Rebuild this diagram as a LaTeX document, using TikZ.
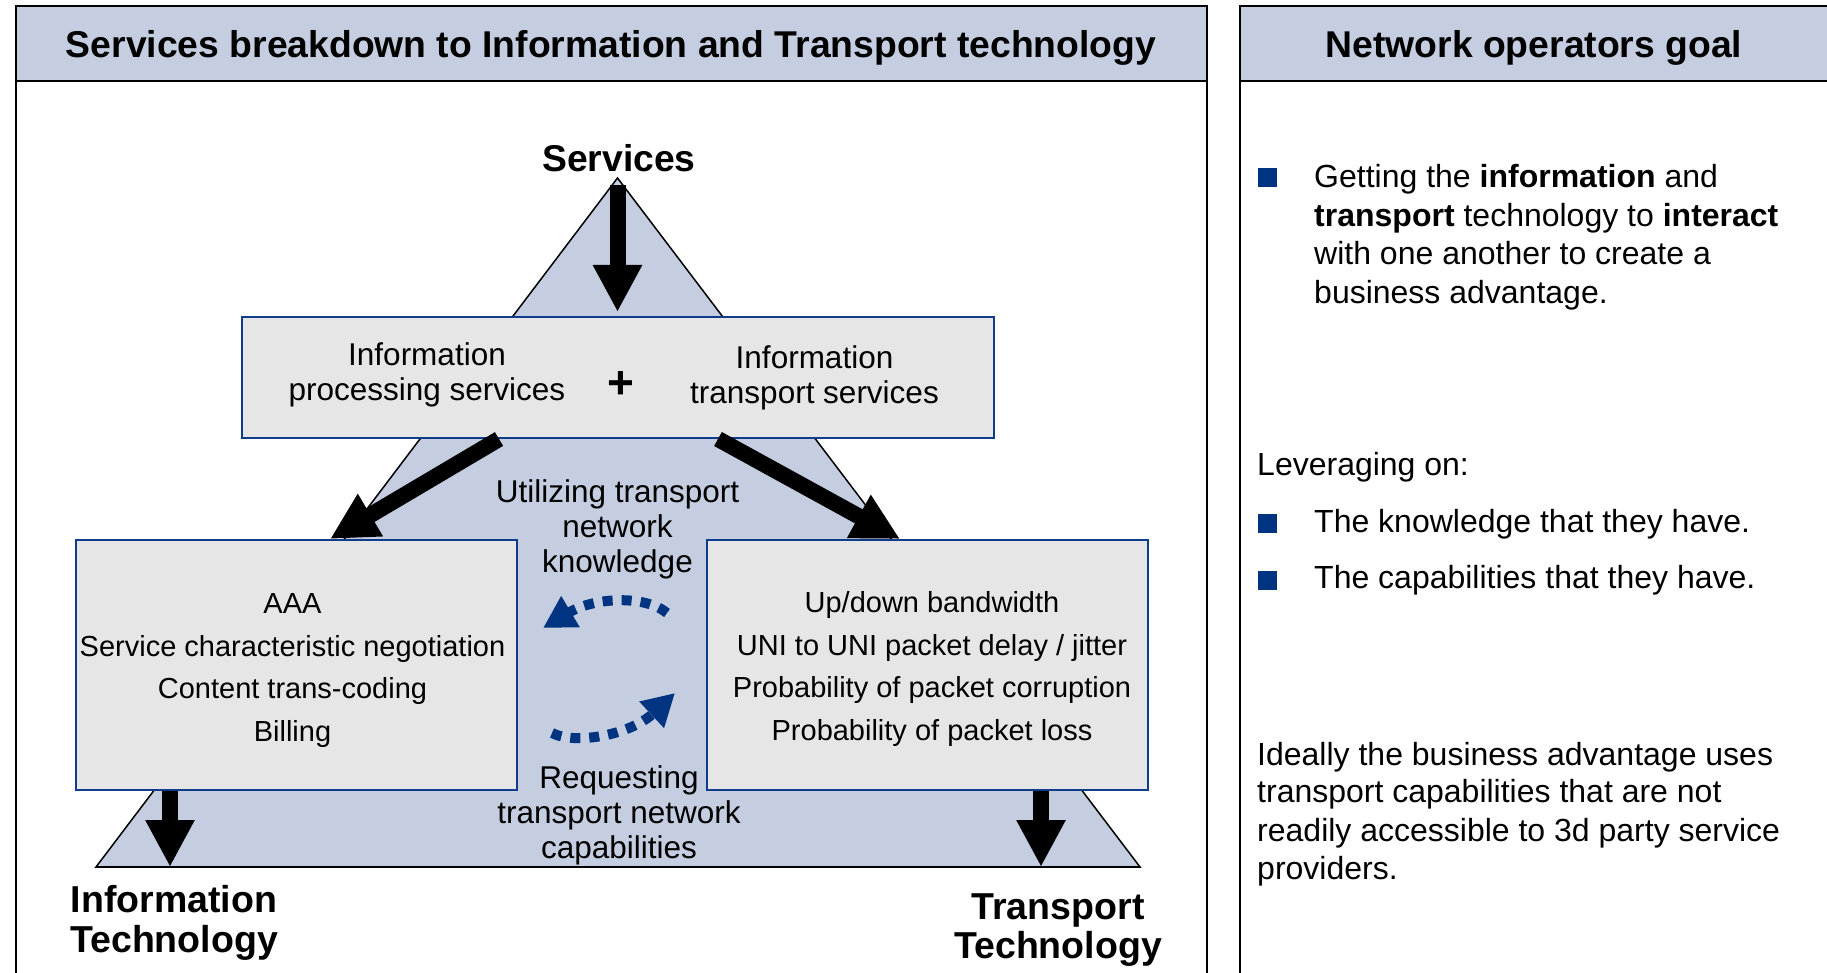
\documentclass[tikz,border=0pt]{standalone}
\usepackage{fontspec}
\setmainfont{Liberation Sans}
\usetikzlibrary{arrows.meta}
\definecolor{hdr}{RGB}{196,206,224}
\definecolor{boxfill}{RGB}{230,230,230}
\definecolor{navy}{RGB}{16,60,140}
\definecolor{bul}{RGB}{0,51,128}
\begin{document}
\begin{tikzpicture}[x=1pt,y=-1pt,
  panel/.style={draw=black,line width=2pt},
  hdrbox/.style={fill=hdr,draw=black,line width=2pt},
  graybox/.style={draw=navy,fill=boxfill,line width=2pt,inner sep=0pt},
  bigarrow/.style={line width=16pt,-{Triangle[width=46pt,length=47pt]}},
  dotarrow/.style={draw=bul,line width=10pt,dash pattern=on 10pt off 9pt,-{Triangle[width=34pt,length=32pt]}},
  ttl/.style={font=\fontsize{37.3}{40}\selectfont\bfseries,align=center,inner sep=0pt},
  mid/.style={font=\fontsize{31.5}{35}\selectfont,align=center,inner sep=0pt},
  boxtxt/.style={font=\fontsize{29}{42.7}\selectfont,align=center},
  rt/.style={font=\fontsize{32}{38.3}\selectfont,anchor=base west,inner sep=0pt},
  bullet/.style={fill=bul,minimum size=19pt,inner sep=0pt}]
\useasboundingbox (0,0) rectangle (1827,973);
\clip (0,0) rectangle (1827,973);
% panels
\draw[panel] (15.5,6) rectangle (1207,1000);
\filldraw[hdrbox] (15.5,6) rectangle (1207,81);
\draw[panel] (1240,6) rectangle (1830,1000);
\filldraw[hdrbox] (1240,6) rectangle (1830,81);
\node[ttl] (h1) at (611,47.5) {Services breakdown to Information and Transport technology};
\node[ttl] (h2) at (1534,47.5) {Network operators goal};
% triangle
\filldraw[fill=hdr,draw=black,line width=1.5pt] (617.5,178) -- (1140,867) -- (96,867) -- cycle;
\draw[line width=2.5pt] (96,867) -- (1140,867);
\coordinate (svs) at (617.5,185);
% boxes
\node[graybox,minimum width=752pt,minimum height=121pt] (top) at (618,377.5) {};
\node[graybox,minimum width=441pt,minimum height=250pt] (lbox) at (296.5,665) {};
\node[graybox,minimum width=441pt,minimum height=250pt] (rbox) at (927.5,665) {};
\node[boxtxt] (ltxt) at (292.5,670.5) {AAA\\Service characteristic negotiation\\Content trans-coding\\Billing};
\node[boxtxt] (rtxt) at (932,669) {Up/down bandwidth\\UNI to UNI packet delay / jitter\\Probability of packet corruption\\Probability of packet loss};
\node[mid] (tp1) at (427,375) {Information\\processing services};
\node[mid] (tp2) at (814.5,378) {Information\\transport services};
\node[ttl,font=\fontsize{46}{46}\selectfont\bfseries] (plus) at (621,385) {+};
\node[mid] (ut) at (617.5,529.5) {Utilizing transport\\network\\knowledge};
\node[mid] (rq) at (619,815) {Requesting\\transport network\\capabilities};
\node[ttl] (sv) at (619,158) {Services};
\node[ttl,font=\fontsize{37.5}{40}\selectfont\bfseries] (it) at (174,922.5) {Information\\Technology};
\node[ttl,font=\fontsize{37.5}{38.5}\selectfont\bfseries] (tt) at (1058,930) {Transport\\Technology};
% arrows
\coordinate (la) at (499,0);
\coordinate (lb) at (330,0);
\coordinate (ra) at (718,0);
\coordinate (rb) at (900,0);
\coordinate (bl) at (170,867);
\coordinate (br) at (1041,867);
\draw[bigarrow,shorten >=4pt] (svs) -- (svs |- top.north);
\draw[bigarrow] (top.south -| la) -- (lbox.north -| lb);
\draw[bigarrow] (top.south -| ra) -- (rbox.north -| rb);
\draw[bigarrow] (lbox.south -| bl) -- (bl);
\draw[bigarrow] (rbox.south -| br) -- (br);
% dotted arcs
\coordinate (u1) at (667,613);
\coordinate (u2) at (543,628);
\coordinate (d1) at (552,733);
\coordinate (d2) at (675,693);
\draw[dotarrow] (u1) .. controls (645,595) and (595,597) .. (u2);
\draw[dotarrow] (d1) .. controls (575,745) and (630,735) .. (d2);
% right panel
\node[bullet] (b1) at (1267.5,177.5) {};
\node[rt] (g1) at (1314,188) {Getting the \textbf{information} and};
\node[rt] (g2) at (1314,226.5) {\textbf{transport} technology to \textbf{interact}};
\node[rt] (g3) at (1314,265) {with one another to create a};
\node[rt] (g4) at (1314,303.5) {business advantage.};
\node[rt] (lev) at (1257,475.5) {Leveraging on:};
\node[bullet] (b2) at (1267.5,523.5) {};
\node[rt] (k1) at (1314,532.5) {The knowledge that they have.};
\node[bullet] (b3) at (1267.5,580.5) {};
\node[rt] (k2) at (1314,588.5) {The capabilities that they have.};
\node[rt] (i1) at (1257,765) {Ideally the business advantage uses};
\node[rt] (i2) at (1257,802) {transport capabilities that are not};
\node[rt] (i3) at (1257,841) {readily accessible to 3d party service};
\node[rt] (i4) at (1257,879) {providers.};
\end{tikzpicture}
\end{document}
